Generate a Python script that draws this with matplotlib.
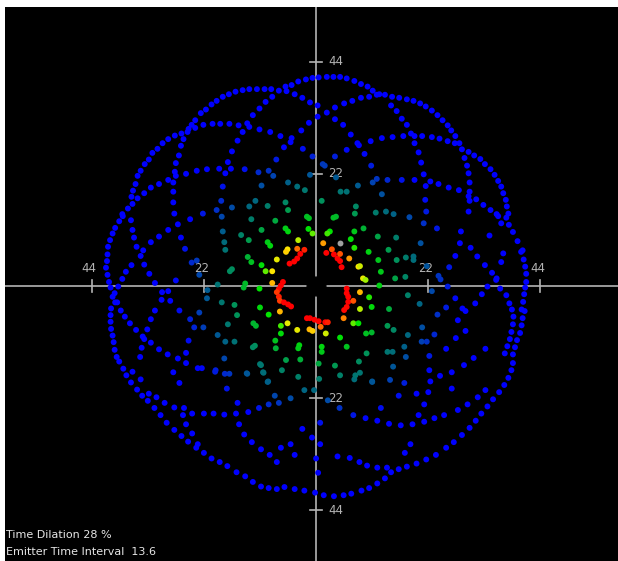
import numpy as np
import matplotlib
matplotlib.use('Agg')
import matplotlib.pyplot as plt
from matplotlib.colors import LinearSegmentedColormap

# emitter positions, grouped by region (x, y in chart units)
upper_far_left = [
    (-21.6, 34.6), (-22.6, 33.9), (-23.7, 32.5), (-24.4, 31.6), (-25.0, 30.8), (-25.2, 30.2),
    (-26.4, 29.9), (-27.7, 29.5), (-29.0, 28.8), (-30.1, 28.0), (-31.1, 26.9), (-32.1, 26.1),
    (-32.8, 24.8), (-33.6, 23.9), (-34.4, 22.6), (-35.0, 21.6), (-35.4, 20.0), (-35.9, 18.7),
    (-36.2, 17.5), (-36.0, 16.1), (-36.9, 15.2), (-38.0, 14.1),
    (-22.1, 31.6), (-23.7, 31.0), (-26.0, 28.8), (-26.5, 27.5), (-26.9, 25.6), (-27.5, 24.1),
    (-27.7, 22.4), (-27.5, 21.6), (-28.0, 20.3), (-28.0, 18.5), (-28.0, 16.4), (-27.8, 14.2),
    (-21.4, 22.9), (-23.4, 22.6), (-25.5, 22.0), (-29.0, 20.8), (-30.8, 20.0), (-32.4, 19.3),
    (-33.7, 18.2), (-35.0, 17.2), (-22.2, 14.2),
]
upper_left = [
    (-20.5, 35.6), (-19.5, 36.3), (-18.3, 37.1), (-17.1, 37.6), (-15.8, 38.1), (-14.4, 38.4),
    (-13.1, 38.6), (-11.6, 38.6), (-10.1, 38.6), (-8.8, 38.6), (-7.3, 38.3), (-5.8, 38.2),
    (-6.0, 39.1), (-4.8, 39.4), (-3.5, 40.1), (-2.0, 40.5), (-0.7, 40.8), (0.5, 40.9),
    (-4.2, 37.6), (-2.7, 36.9), (-1.2, 36.0), (0.3, 35.4), (-8.6, 37.1), (-9.9, 36.1),
    (-11.1, 34.8), (-12.4, 33.5), (-13.5, 31.9), (-13.1, 31.2), (-14.4, 30.2), (-15.4, 28.5),
    (-16.5, 26.4), (-17.3, 24.3), (-17.8, 22.1), (-18.3, 19.5), (-18.6, 16.7), (-19.5, 14.9),
    (-20.3, 31.8), (-18.8, 31.8), (-17.0, 31.8), (-15.2, 31.5), (-11.1, 30.7), (-9.0, 30.2),
    (-7.0, 29.4), (-4.8, 29.0), (-5.0, 28.2), (-6.3, 27.2), (-7.8, 24.8), (-9.3, 22.6),
    (-11.3, 22.3), (-14.0, 22.9), (-16.7, 23.0), (-19.0, 23.0), (-2.9, 30.5), (-1.4, 32.0),
    (0.3, 33.2), (-2.6, 26.9), (-0.7, 25.4), (-1.2, 21.8), (-8.4, 21.6), (-10.7, 19.7),
    (-16.5, 15.4), (-5.5, 20.3), (-3.7, 19.5), (-2.2, 18.8), (-11.9, 16.7), (-13.1, 15.6),
    (-9.5, 15.7), (-6.0, 16.4), (-5.5, 14.9),
]
upper_right = [
    (2.1, 41.0), (3.4, 41.0), (4.7, 41.0), (6.0, 40.7), (7.5, 40.2), (8.8, 39.6),
    (10.1, 39.1), (11.1, 38.3), (11.9, 37.5), (12.4, 37.6), (13.5, 37.5), (14.9, 37.1),
    (16.3, 36.9), (17.8, 36.6), (19.1, 36.3), (20.4, 35.8), (21.5, 35.2),
    (2.1, 34.0), (3.7, 35.0), (5.5, 35.8), (7.1, 36.3), (8.8, 36.9), (10.4, 37.1),
    (14.7, 35.4), (15.8, 34.3), (16.8, 32.8), (17.8, 31.6), (18.6, 29.9), (19.3, 28.0),
    (20.1, 26.2), (20.6, 24.2), (21.1, 21.9), (21.5, 19.6), (21.4, 16.9), (21.6, 14.6),
    (3.7, 32.7), (5.3, 31.6), (6.8, 29.7), (8.1, 28.0), (9.5, 25.9), (10.8, 23.6),
    (11.1, 20.3), (11.9, 21.0), (14.0, 20.8), (16.8, 20.8), (19.3, 20.8),
    (8.4, 27.6), (10.7, 28.4), (12.9, 29.0), (15.0, 29.2), (17.1, 29.4), (19.3, 29.4),
    (20.8, 29.4), (6.0, 26.7), (3.7, 25.4), (1.3, 23.9), (1.7, 23.6), (3.9, 21.3),
    (8.2, 19.7), (12.9, 18.0), (4.8, 18.5), (6.0, 18.5), (7.8, 15.6), (1.1, 16.7),
    (11.7, 14.4), (13.7, 14.6), (15.2, 14.1),
]
upper_far_right = [
    (22.7, 34.4), (23.8, 33.5), (24.8, 32.5), (25.8, 31.5), (26.5, 30.5), (27.3, 29.4),
    (28.1, 28.0), (28.6, 26.8), (29.9, 26.3), (31.0, 25.6), (32.2, 24.9), (33.1, 23.9),
    (34.2, 22.9), (35.0, 21.8), (35.7, 20.6), (36.3, 19.5), (36.7, 18.2), (37.2, 16.9),
    (37.4, 15.6), (37.7, 14.2),
    (22.7, 29.2), (24.2, 28.9), (25.8, 28.4), (27.2, 28.0), (29.1, 25.1), (29.6, 23.6),
    (29.9, 22.1), (30.1, 20.3), (30.1, 18.5), (29.9, 17.6), (30.1, 16.7), (29.9, 14.6),
    (22.4, 20.5), (24.0, 20.0), (26.0, 19.3), (28.0, 18.8), (31.4, 17.0), (32.8, 15.9),
    (34.2, 14.9), (35.4, 14.1),
]
middle_far_left = [
    (-38.6, 12.7), (-39.4, 11.4), (-39.9, 10.3), (-40.4, 9.0), (-40.8, 7.7), (-40.9, 6.2),
    (-41.0, 4.9), (-41.2, 3.6), (-40.9, 2.2), (-40.6, 0.8), (-40.3, -0.3), (-38.8, -0.1),
    (-39.5, -1.4), (-39.9, -2.1), (-39.4, -3.2), (-39.0, -3.2), (-40.2, -4.4), (-40.3, -5.7),
    (-40.3, -7.0), (-40.2, -8.4), (-39.9, -9.7), (-39.7, -11.0), (-39.5, -12.5), (-39.1, -13.9),
    (-37.9, 13.7), (-36.3, 12.9), (-36.0, 11.0), (-35.7, 9.5), (-35.2, 7.7), (-34.4, 5.9),
    (-33.9, 7.0), (-33.7, 4.2), (-32.7, 2.4), (-31.6, 0.6), (-30.2, -1.2), (-29.0, -1.0),
    (-30.3, -2.7), (-28.6, -2.9), (-26.8, -4.8), (-32.4, 8.6), (-30.8, 9.7), (-29.0, 11.0),
    (-27.1, 12.1), (-26.5, 9.5), (-25.7, 7.3), (-24.7, 13.1), (-36.2, 4.1), (-37.3, 2.8),
    (-38.0, 1.4), (-38.3, -4.8), (-37.5, -6.0), (-36.5, -7.3), (-35.3, -8.6), (-34.0, -9.9),
    (-33.7, -10.4), (-32.4, -11.1), (-30.8, -12.4), (-29.1, -13.4), (-27.1, -14.2),
    (-31.6, -4.8), (-32.4, -6.5), (-33.1, -8.5), (-34.2, -12.1), (-34.5, -13.9),
    (-27.5, 1.1), (-24.4, 4.6), (-23.4, 5.0), (-22.9, 2.2), (-21.3, -0.8), (-21.4, -2.4),
    (-22.9, -5.2), (-24.7, -6.5), (-23.9, -8.1), (-22.1, -8.1), (-25.0, -10.7), (-25.5, -13.1),
]
middle_left = [
    (-18.5, 13.6), (-12.7, 13.1), (-8.0, 12.8), (-1.8, 13.6), (-1.4, 13.3), (-18.3, 10.7),
    (-14.7, 10.0), (-10.7, 11.0), (-6.0, 11.3), (-5.5, 10.7), (-1.5, 11.2), (-0.7, 10.3),
    (-18.0, 8.6), (-13.2, 9.0), (-9.5, 8.6), (-9.0, 7.9), (-3.5, 9.0), (-17.8, 7.1),
    (-3.7, 7.3), (-2.3, 7.1), (-3.1, 6.3), (-3.7, 5.4), (-4.3, 4.8), (-5.2, 4.4),
    (-5.6, 7.2), (-5.9, 6.7), (-13.4, 5.7), (-12.7, 4.7), (-10.7, 4.1), (-7.7, 5.2),
    (-9.9, 2.9), (-8.6, 2.9), (-16.5, 3.3), (-16.9, 2.9), (-19.3, 0.3), (-13.9, 0.5),
    (-14.2, -0.3), (-11.1, -0.5), (-8.6, 0.6), (-6.5, 0.8), (-6.9, 0.1), (-7.3, -0.6),
    (-7.7, -1.2), (-7.3, -2.1), (-7.1, -2.9), (-6.3, -3.2), (-5.5, -3.6), (-4.9, -4.0),
    (-18.5, -3.2), (-16.0, -3.7), (-11.0, -4.2), (-15.5, -5.7), (-9.3, -5.6), (-7.1, -5.0),
    (-17.3, -7.5), (-12.3, -7.3), (-11.8, -7.8), (-6.9, -7.8), (-5.6, -7.3), (-1.8, -6.3),
    (-1.2, -6.3), (-0.3, -6.6), (0.5, -6.9), (-3.7, -8.6), (-1.3, -8.5), (-0.7, -8.8),
    (-19.3, -9.6), (-17.8, -10.9), (-16.0, -10.9), (-12.0, -11.7), (-12.4, -12.0),
    (-8.0, -10.7), (-7.9, -12.2), (-6.9, -9.3), (-3.3, -11.6), (-3.5, -12.2), (-5.9, -14.5),
    (-18.0, -14.2),
]
middle_right = [
    (18.3, 13.5), (3.9, 13.6), (3.4, 13.4), (7.6, 14.2), (9.3, 11.3), (7.5, 10.7),
    (2.7, 10.7), (2.2, 10.3), (12.1, 9.7), (15.7, 9.5), (1.4, 8.4), (6.8, 9.2),
    (2.0, 6.5), (3.1, 7.2), (3.5, 6.2), (4.2, 5.4), (4.7, 4.9), (5.0, 3.7),
    (4.7, 6.3), (6.5, 5.4), (7.5, 7.5), (10.3, 6.7), (12.2, 5.1), (14.2, 7.1),
    (15.8, 5.1), (17.6, 5.6), (19.1, 5.8), (19.1, 5.1), (8.3, 3.8), (8.6, 3.9),
    (9.2, 1.5), (9.7, 1.2), (12.7, 2.8), (15.5, 1.5), (17.5, 1.8), (12.4, 0.1),
    (6.0, -0.5), (6.0, -1.4), (6.3, -2.1), (6.3, -3.1), (6.0, -4.1), (5.5, -4.7),
    (8.6, -1.2), (7.3, -2.9), (10.4, -2.2), (10.9, -4.1), (14.3, -4.5), (18.0, -1.8),
    (20.3, -3.5), (5.4, -6.3), (8.6, -4.5), (7.3, -7.3), (8.3, -7.3), (9.8, -9.3),
    (10.9, -9.1), (14.0, -7.8), (15.2, -8.6), (18.0, -9.6), (20.7, -10.9), (21.7, -10.9),
    (4.7, -10.1), (6.0, -11.9), (9.9, -13.2), (8.4, -14.8), (3.7, -15.6), (4.7, -17.5),
    (14.0, -12.9), (15.0, -12.9), (17.3, -11.9), (17.6, -13.9), (7.5, -18.3), (8.6, -17.0),
    (11.0, -18.8), (14.5, -18.4), (17.3, -19.0), (1.8, -7.1), (2.3, -7.1), (0.9, -8.0),
    (1.9, -9.3), (1.1, -11.9), (1.1, -12.9), (0.5, -15.2),
]
middle_far_right = [
    (21.7, 3.9), (24.0, 2.0), (24.4, 1.3), (22.7, -1.0), (25.8, -0.1), (26.1, 3.7),
    (27.3, 5.9), (31.6, 5.8), (33.1, 4.1), (34.5, 2.6), (35.4, 1.5), (33.6, -0.1),
    (32.5, -1.6), (31.2, -3.4), (28.7, -4.4), (27.3, -2.4), (36.7, 6.4), (36.3, 4.7),
    (35.3, 1.2), (36.1, -0.5), (37.3, -1.8), (37.9, -3.4), (38.4, -4.6), (40.2, 6.7),
    (40.7, 5.2), (41.0, 3.8), (41.2, 2.4), (41.2, 0.8), (41.0, -0.3), (40.8, -1.6),
    (40.6, -3.1), (40.3, -4.6), (23.7, 11.3), (28.4, 10.7), (28.2, 8.4), (30.3, 7.5),
    (20.5, 8.4), (21.1, 12.3), (37.3, 13.4), (37.8, 12.0), (38.6, 10.6), (39.5, 8.8),
    (40.5, 7.0), (35.7, 13.7), (36.3, 12.3), (34.0, 9.9),
    (40.9, -4.9), (40.5, -6.3), (40.3, -7.7), (40.0, -9.2), (39.4, -10.6), (39.0, -12.0),
    (38.6, -13.4), (38.7, -6.0), (38.6, -7.5), (38.3, -9.0), (38.0, -10.4), (37.5, -11.8),
    (37.0, -13.2), (25.5, -4.2), (23.8, -5.6), (29.3, -4.9), (27.8, -6.7),
    (20.8, -8.1), (23.2, -9.5), (22.2, -13.7), (25.5, -12.3), (27.4, -10.2), (29.3, -8.8),
]
lower_outer = [
    (-38.6, -14.8), (-37.8, -16.2), (-37.2, -17.5), (-36.3, -18.9), (-35.1, -20.3),
    (-34.1, -21.5), (-33.0, -22.5), (-31.7, -23.9), (-30.5, -25.3), (-29.3, -26.8),
    (-27.8, -28.2), (-26.4, -29.4), (-25.1, -30.5), (-23.5, -31.7), (-22.0, -32.7),
    (-20.5, -33.8), (-18.9, -34.5), (-17.4, -35.3), (-15.6, -36.5), (-13.9, -37.3),
    (-12.4, -38.4), (-10.8, -39.3), (-9.3, -39.6), (-7.7, -39.8), (-6.2, -39.4),
    (-4.2, -39.8), (-2.3, -40.1), (-0.2, -40.5), (1.5, -41.0), (3.5, -41.2), (5.4, -41.0),
    (6.9, -40.7), (8.9, -40.1), (10.4, -39.6), (12.0, -38.7), (13.5, -37.7), (14.7, -36.5),
    (16.2, -35.9), (17.8, -35.4), (19.7, -34.8), (21.6, -34.0), (23.5, -33.1), (25.5, -31.7),
    (27.0, -30.6), (28.6, -29.2), (30.1, -27.8), (31.3, -26.4), (32.4, -25.0), (33.6, -23.6),
    (34.7, -22.2), (35.9, -20.8), (36.9, -19.4), (37.7, -18.0), (38.3, -16.5), (38.6, -15.1),
]
lower_inner = [
    (-34.4, -18.3), (-32.8, -21.1), (-31.3, -21.8), (-29.7, -22.9), (-27.8, -23.8),
    (-25.9, -23.9), (-24.3, -25.0), (-22.0, -25.0), (-20.1, -25.0), (-18.0, -25.2),
    (-15.7, -25.0), (-13.3, -24.7), (-11.2, -23.9), (-9.3, -23.2), (-7.3, -22.9),
    (-15.1, -27.1), (-14.1, -29.1), (-12.6, -30.6), (-10.8, -32.0), (-9.1, -33.1),
    (-2.7, -28.0), (-0.8, -29.7), (-17.5, -20.1), (-17.0, -17.2), (-17.9, -17.2),
    (-19.7, -16.5), (-13.5, -17.2), (-10.8, -15.5), (-10.4, -16.9), (-9.4, -18.7),
    (-8.1, -21.5), (-5.0, -22.0), (-2.3, -20.4), (-0.4, -20.4), (-23.2, -16.1), (-25.5, -15.1),
    (-22.4, -16.1), (-19.8, -16.8), (-13.6, -17.1), (-11.0, -15.3), (-10.3, -17.0),
    (-9.5, -18.8), (-6.7, -16.5), (-3.1, -14.4), (-3.5, -17.8), (0.6, -18.2),
    (-36.0, -16.8), (-26.1, -25.3), (-25.5, -27.1), (-24.3, -28.9), (-23.2, -31.0),
    (-28.0, -16.9), (-26.8, -19.0), (-15.4, -22.9), (-6.9, -31.7), (-5.0, -31.0),
    (-4.2, -33.1), (-7.7, -34.5),
    (22.2, -16.5), (22.4, -18.7), (22.0, -20.8), (21.2, -23.2), (20.1, -25.3),
    (24.3, -17.6), (26.6, -16.9), (29.0, -15.5), (30.9, -14.1), (33.2, -12.3),
    (7.3, -25.3), (9.7, -25.9), (12.0, -26.4), (14.3, -27.0), (16.6, -27.3), (18.9, -27.1),
    (21.2, -26.6), (23.2, -25.9), (25.1, -25.3), (27.8, -24.3), (29.7, -23.2), (31.7, -21.8),
    (33.2, -20.4), (4.2, -33.4), (6.6, -33.7), (8.5, -34.5), (10.0, -35.2), (12.0, -35.6),
    (13.9, -35.6), (0.8, -26.8), (0.8, -31.0), (0.0, -33.8), (0.4, -36.6), (18.5, -31.0),
    (17.4, -32.7), (12.7, -23.9), (16.2, -21.5), (19.7, -21.1), (26.6, -20.1), (2.3, -22.4),
    (4.6, -23.9), (11.0, -18.7), (15.1, -15.8), (7.7, -17.5),
]
grey_points = [(4.7, 8.4)]

tick_values = [-44, -22, 22, 44]
tick_labels = ['44', '22', '22', '44']
info_lines = ['Time Dilation 28 %', 'Emitter Time Interval  13.6']

# colour depends on the distance from the centre: red inside, blue outside
radius_colours = [
    (0.0, '#ff0000'), (7.2, '#ff0000'), (8.3, '#ff8c00'), (9.0, '#ffe600'),
    (9.8, '#a0f000'), (10.8, '#00e600'), (13.5, '#00c020'), (16.5, '#00935a'),
    (18.5, '#007a6c'), (20.5, '#006680'), (22.5, '#004ca6'), (25.5, '#0020d8'),
    (28.0, '#0000ff'), (50.0, '#0000ff'),
]
cmap = LinearSegmentedColormap.from_list('radial', [(r / 50.0, c) for r, c in radius_colours])

pts = np.array(upper_far_left + upper_left + upper_right + upper_far_right +
               middle_far_left + middle_left + middle_right + middle_far_right +
               lower_outer + lower_inner)
radius = np.hypot(pts[:, 0], pts[:, 1])

fig = plt.figure(figsize=(6.18, 5.61), dpi=100, facecolor='white')
ax = fig.add_axes([5 / 618, 0, 613 / 618, 554 / 561])
ax.set_facecolor('black')
ax.set_xlim(-61.0, 59.2)
ax.set_ylim(-53.9, 54.7)
for s in ax.spines.values():
    s.set_visible(False)
ax.set_xticks([])
ax.set_yticks([])

axis_col = '#b4b4b4'
ax.axhline(0, color=axis_col, lw=1.2, zorder=1)
ax.axvline(0, color=axis_col, lw=1.2, zorder=1)
for v, lab in zip(tick_values, tick_labels):
    ax.plot([v, v], [-1.1, 1.1], color=axis_col, lw=1.2, zorder=1)
    ax.plot([-1.1, 1.1], [v, v], color=axis_col, lw=1.2, zorder=1)
    ax.text(v - 0.5, 3.45, lab, color=axis_col, fontsize=8.5, ha='center', va='center')
    ax.text(2.35, v, lab, color=axis_col, fontsize=8.5, ha='left', va='center')
# the emitter sits in the middle
ax.plot(0, 0, 'o', ms=13.5, color='black', zorder=2)

ax.scatter(pts[:, 0], pts[:, 1], c=radius, cmap=cmap, vmin=0, vmax=50,
           s=18, linewidths=0, zorder=3)
g = np.array(grey_points)
ax.scatter(g[:, 0], g[:, 1], color='#a0a0a0', s=18, linewidths=0, zorder=3)

fig.text(6 / 618, 1 - 535 / 561, info_lines[0], color='#e6e6e6', fontsize=8, ha='left', va='center')
fig.text(6 / 618, 1 - 552 / 561, info_lines[1], color='#e6e6e6', fontsize=8, ha='left', va='center')

fig.savefig('out.png', dpi=100, facecolor='white')
